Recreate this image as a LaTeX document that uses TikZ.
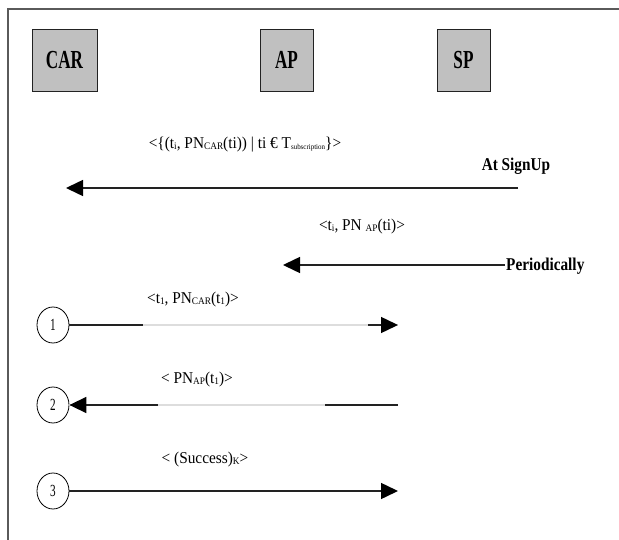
\documentclass[tikz,border=0pt]{standalone}
\usepackage{fontspec}
\setmainfont{Liberation Serif}[FakeStretch=0.93]
\newfontfamily\boxfont{Liberation Serif}[FakeStretch=0.66]
\newfontfamily\notefont{Liberation Serif}[FakeStretch=0.85]
\usetikzlibrary{arrows.meta,shapes.geometric,calc}
\newcommand\lowsub[1]{\raisebox{-1pt}{\fontsize{10}{11}\selectfont #1}}
\newcommand\tinysub[1]{\raisebox{-1pt}{\fontsize{7.5}{8}\selectfont #1}}
\definecolor{framegray}{HTML}{5A5A5A}
\definecolor{boxgray}{HTML}{C0C0C0}
\definecolor{linedark}{HTML}{222222}
\definecolor{linefaint}{HTML}{DDDDDD}
\tikzset{
  party/.style={draw=linedark, line width=0.9pt, fill=boxgray, minimum width=65pt, minimum height=62pt,
    font=\boxfont\bfseries\fontsize{26}{28}\selectfont, inner sep=0pt},
  partysm/.style={party, minimum width=53pt},
  stepnum/.style={draw=black, line width=0.8pt, ellipse, minimum width=32pt, minimum height=36pt,
    inner sep=0pt, font=\boxfont\fontsize{17}{18}\selectfont},
  msg/.style={draw=linedark, line width=1.5pt, -{Triangle[length=17pt,width=16pt,color=black]}},
  seg/.style={draw=linedark, line width=1.5pt},
  faint/.style={draw=linefaint, line width=1.2pt},
  lbl/.style={font=\fontsize{16.5}{18}\selectfont, inner sep=0pt},
  note/.style={font=\notefont\bfseries\fontsize{18}{20}\selectfont, inner sep=0pt},
}
\begin{document}
\begin{tikzpicture}[x=1pt,y=-1pt]
\useasboundingbox (0,0) rectangle (619,540);
% frame
\draw[framegray, line width=1.4pt] (8,540) -- (8,9) -- (619,9);

% parties
\node[party]   (car) at (64.5,60) {CAR};
\node[partysm] (ap)  at (286.5,60) {AP};
\node[partysm] (sp)  at (463.5,60) {SP};

% at sign-up: SP -> CAR
\coordinate (su0) at (518,188);
\coordinate (su1) at (66,188);
\draw[msg] (su0) -- (su1);
\node[lbl] (m0) at (245,145) {<\{(t\lowsub{i}, PN\lowsub{CAR}(ti)) | ti € T\tinysub{subscription}\}>};
\node[note] (n0) at (516,166) {At SignUp};

% periodically: SP -> AP
\coordinate (pe0) at (505,265);
\coordinate (pe1) at (283,265);
\draw[msg] (pe0) -- (pe1);
\node[lbl] (mp) at (362,227) {<t\lowsub{i}, PN \lowsub{AP}(ti)>};
\node[note, anchor=base west] (n1) at (506,271) {Periodically};

% step 1: CAR -> AP
\node[stepnum] (s1) at (53,325) {1};
\coordinate (r1) at (398,325);
\draw[faint] (s1.east) -- (r1);
\draw[seg] (s1.east) -- (143,325);
\draw[msg] (368,325) -- (r1);
\node[lbl] (m1) at (193,300) {<t\lowsub{1}, PN\lowsub{CAR}(t\lowsub{1})>};

% step 2: AP -> CAR
\node[stepnum] (s2) at (53,405) {2};
\coordinate (r2) at (398,405);
\draw[faint] (r2) -- (s2.east);
\draw[seg] (r2) -- (325,405);
\draw[msg] (158,405) -- (s2.east);
\node[lbl] (m2) at (197,380) {< PN\lowsub{AP}(t\lowsub{1})>};

% step 3: CAR -> AP
\node[stepnum] (s3) at (53,491) {3};
\coordinate (r3) at (398,491);
\draw[msg] (s3.east) -- (r3);
\node[lbl] (m3) at (205,460) {< (Success)\lowsub{K}>};
\end{tikzpicture}
\end{document}
